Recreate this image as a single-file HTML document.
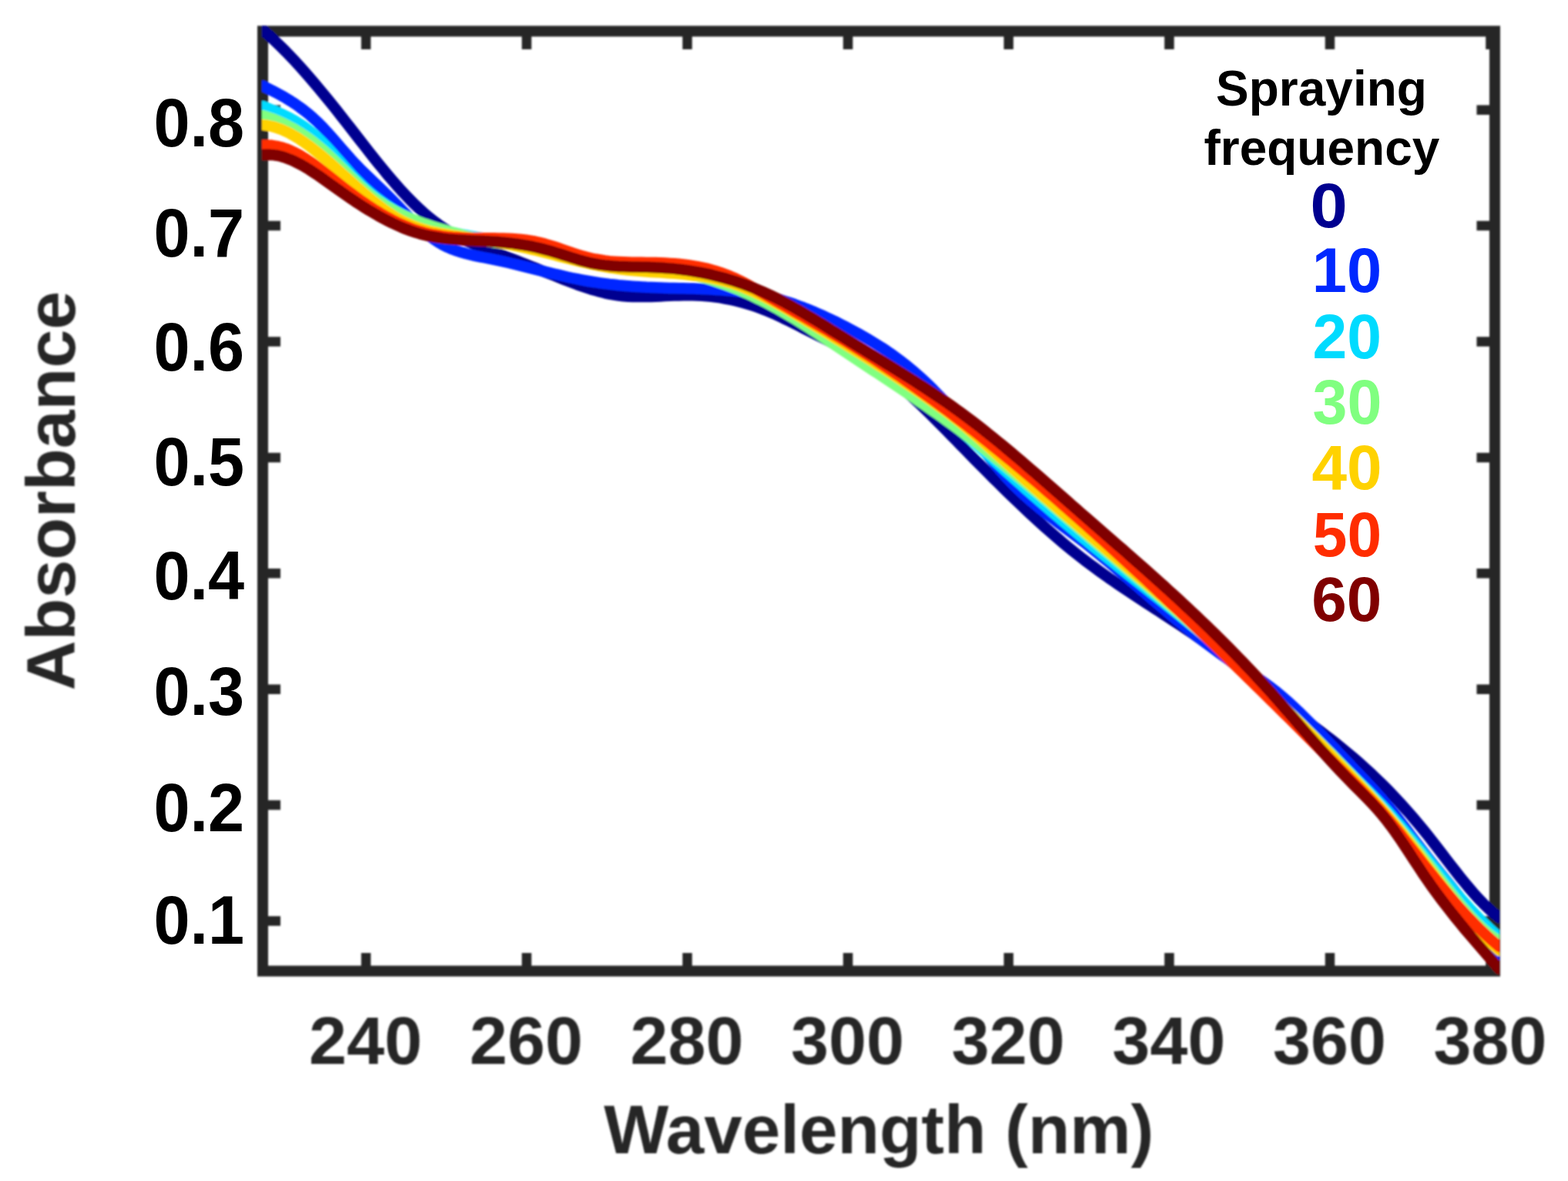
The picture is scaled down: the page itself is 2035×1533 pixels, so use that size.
<!DOCTYPE html>
<html><head><meta charset="utf-8"><title>Absorbance vs Wavelength</title>
<style>
html,body{margin:0;padding:0;background:#fff;}
body{width:2035px;height:1533px;overflow:hidden;position:relative;}
svg{position:absolute;left:0;top:0;}
.ax{font-family:"Liberation Sans",Arial,sans-serif;font-weight:bold;fill:#262626;}
.yl{font-family:"Liberation Sans",Arial,sans-serif;font-weight:bold;fill:#000;font-size:88.5px;}
.lg{font-family:"Liberation Sans",Arial,sans-serif;font-weight:bold;font-size:82.1px;}
.lt{font-family:"Liberation Sans",Arial,sans-serif;font-weight:bold;font-size:64px;fill:#000;}
</style></head><body>
<svg width="2035" height="1533" viewBox="0 0 2035 1533">
<defs><filter id="bl" x="-5%" y="-5%" width="110%" height="110%"><feGaussianBlur stdDeviation="0.9"/></filter>
<clipPath id="cp"><rect x="340" y="33.5" width="1606" height="1234.0"/></clipPath></defs>
<g filter="url(#bl)">
<g fill="none" stroke="#262626" stroke-width="14">
<rect x="341" y="40.5" width="1599" height="1220.0"/>
</g>
<g stroke="#262626" stroke-width="12.5" fill="none">
<path d="M475.0 1260.5V1237.0M475.0 40.5V64.0M683.5 1260.5V1237.0M683.5 40.5V64.0M892.0 1260.5V1237.0M892.0 40.5V64.0M1100.5 1260.5V1237.0M1100.5 40.5V64.0M1309.0 1260.5V1237.0M1309.0 40.5V64.0M1517.5 1260.5V1237.0M1517.5 40.5V64.0M1726.0 1260.5V1237.0M1726.0 40.5V64.0M1934.5 1260.5V1237.0M1934.5 40.5V64.0M341 142.7H364M1940 142.7H1916.5M341 293.1H364M1940 293.1H1916.5M341 443.5H364M1940 443.5H1916.5M341 593.9000000000001H364M1940 593.9000000000001H1916.5M341 744.3H364M1940 744.3H1916.5M341 894.7H364M1940 894.7H1916.5M341 1045.1000000000001H364M1940 1045.1000000000001H1916.5M341 1195.5H364M1940 1195.5H1916.5"/>
</g>
<g clip-path="url(#cp)" fill="none" stroke-width="14.5" stroke-linejoin="round" stroke-linecap="round">
<path stroke="#000090" d="M341 38.9 347 44.1 353 49.5 359 55.2 365 61.0 371 67.0 377 73.3 383 79.6 389 86.2 395 92.9 401 99.8 407 106.8 413 113.9 419 121.1 425 128.4 431 135.8 437 143.3 443 150.9 449 158.6 455 166.3 461 174.0 467 181.7 473 189.4 479 197.1 485 204.7 491 212.2 497 219.5 503 226.8 509 233.9 515 240.8 521 247.5 527 253.9 533 260.1 539 266.1 545 271.8 551 277.1 557 282.2 563 286.9 569 291.4 575 295.5 581 299.4 587 303.1 593 306.5 599 309.6 605 312.5 611 315.2 617 317.8 623 320.2 629 322.5 635 324.8 641 327.0 647 329.3 653 331.6 659 333.9 665 336.3 671 338.6 677 341.0 683 343.3 689 345.7 695 348.1 701 350.5 707 352.9 713 355.3 719 357.6 725 360.0 731 362.4 737 364.7 743 367.0 749 369.3 755 371.4 761 373.4 767 375.4 773 377.1 779 378.8 785 380.3 791 381.6 797 382.6 803 383.5 809 384.2 815 384.7 821 385.0 827 385.1 833 385.1 839 385.1 845 384.9 851 384.7 857 384.4 863 384.1 869 383.8 875 383.6 881 383.4 887 383.2 893 383.2 899 383.2 905 383.4 911 383.7 917 384.2 923 384.8 929 385.6 935 386.4 941 387.5 947 388.7 953 390.0 959 391.4 965 393.0 971 394.8 977 396.7 983 398.7 989 400.9 995 403.3 1001 405.8 1007 408.4 1013 411.2 1019 414.1 1025 417.0 1031 420.1 1037 423.1 1043 426.2 1049 429.2 1055 432.2 1061 435.2 1067 438.2 1073 441.2 1079 444.3 1085 447.3 1091 450.4 1097 453.6 1103 456.9 1109 460.2 1115 463.7 1121 467.3 1127 471.0 1133 474.9 1139 478.9 1145 483.2 1151 487.6 1157 492.3 1163 497.1 1169 502.1 1175 507.3 1181 512.7 1187 518.2 1193 523.8 1199 529.5 1205 535.4 1211 541.3 1217 547.3 1223 553.3 1229 559.4 1235 565.6 1241 571.7 1247 577.9 1253 584.0 1259 590.2 1265 596.3 1271 602.4 1277 608.4 1283 614.5 1289 620.5 1295 626.4 1301 632.4 1307 638.2 1313 644.1 1319 649.9 1325 655.6 1331 661.3 1337 666.9 1343 672.4 1349 677.9 1355 683.3 1361 688.6 1367 693.9 1373 699.1 1379 704.2 1385 709.2 1391 714.1 1397 718.9 1403 723.6 1409 728.3 1415 732.8 1421 737.2 1427 741.6 1433 745.9 1439 750.2 1445 754.3 1451 758.4 1457 762.5 1463 766.5 1469 770.5 1475 774.5 1481 778.4 1487 782.3 1493 786.3 1499 790.2 1505 794.0 1511 798.0 1517 801.9 1523 805.8 1529 809.8 1535 813.7 1541 817.8 1547 821.8 1553 825.9 1559 830.1 1565 834.3 1571 838.6 1577 842.9 1583 847.4 1589 851.9 1595 856.5 1601 861.2 1607 866.0 1613 870.9 1619 875.8 1625 880.7 1631 885.7 1637 890.6 1643 895.5 1649 900.3 1655 905.1 1661 909.8 1667 914.4 1673 919.0 1679 923.5 1685 928.0 1691 932.5 1697 936.9 1703 941.4 1709 945.9 1715 950.4 1721 955.0 1727 959.6 1733 964.3 1739 969.1 1745 974.0 1751 979.0 1757 984.1 1763 989.3 1769 994.6 1775 1000.1 1781 1005.6 1787 1011.4 1793 1017.2 1799 1023.2 1805 1029.4 1811 1035.7 1817 1042.1 1823 1048.8 1829 1055.5 1835 1062.5 1841 1069.6 1847 1076.9 1853 1084.3 1859 1092.0 1865 1099.7 1871 1107.5 1877 1115.3 1883 1123.1 1889 1130.8 1895 1138.4 1901 1145.8 1907 1153.0 1913 1159.9 1919 1166.6 1925 1172.8 1931 1178.7 1937 1184.1 1946 1191.3"/>
<path stroke="#0028ff" d="M341 111.6 347 114.6 353 117.5 359 120.7 365 123.9 371 127.3 377 131.0 383 134.9 389 139.1 395 143.6 401 148.4 407 153.7 413 159.3 419 165.4 425 171.9 431 178.6 437 185.5 443 192.4 449 199.3 455 206.1 461 212.6 467 218.8 473 224.7 479 230.5 485 236.2 491 241.9 497 247.7 503 253.6 509 259.6 515 265.8 521 272.0 527 278.1 533 284.1 539 290.0 545 295.6 551 300.9 557 305.9 563 310.4 569 314.4 575 317.9 581 320.9 587 323.5 593 325.7 599 327.6 605 329.3 611 330.7 617 332.1 623 333.3 629 334.5 635 335.7 641 336.9 647 338.1 653 339.4 659 340.8 665 342.2 671 343.6 677 345.1 683 346.6 689 348.1 695 349.6 701 351.1 707 352.6 713 354.1 719 355.5 725 356.9 731 358.3 737 359.7 743 361.0 749 362.2 755 363.4 761 364.5 767 365.5 773 366.4 779 367.3 785 368.1 791 368.9 797 369.5 803 370.2 809 370.7 815 371.2 821 371.7 827 372.1 833 372.4 839 372.8 845 373.0 851 373.3 857 373.5 863 373.7 869 373.9 875 374.0 881 374.2 887 374.3 893 374.5 899 374.6 905 374.8 911 375.0 917 375.3 923 375.6 929 375.9 935 376.3 941 376.8 947 377.3 953 377.9 959 378.6 965 379.3 971 380.2 977 381.1 983 382.2 989 383.3 995 384.6 1001 386.1 1007 387.6 1013 389.3 1019 391.1 1025 393.0 1031 395.0 1037 397.2 1043 399.4 1049 401.8 1055 404.2 1061 406.8 1067 409.4 1073 412.2 1079 415.0 1085 417.9 1091 420.9 1097 424.0 1103 427.1 1109 430.3 1115 433.6 1121 437.0 1127 440.5 1133 444.1 1139 447.8 1145 451.6 1151 455.6 1157 459.8 1163 464.1 1169 468.6 1175 473.2 1181 478.1 1187 483.1 1193 488.4 1199 493.9 1205 499.6 1211 505.5 1217 511.7 1223 518.0 1229 524.6 1235 531.5 1241 538.5 1247 545.8 1253 553.3 1259 560.9 1265 568.7 1271 576.5 1277 584.3 1283 592.0 1289 599.6 1295 606.9 1301 613.9 1307 620.6 1313 626.9 1319 633.0 1325 638.7 1331 644.2 1337 649.5 1343 654.6 1349 659.6 1355 664.4 1361 669.0 1367 673.6 1373 678.1 1379 682.6 1385 687.1 1391 691.6 1397 696.1 1403 700.7 1409 705.4 1415 710.2 1421 715.0 1427 719.9 1433 724.8 1439 729.8 1445 734.8 1451 739.9 1457 744.9 1463 750.1 1469 755.2 1475 760.3 1481 765.5 1487 770.6 1493 775.8 1499 780.9 1505 786.0 1511 791.1 1517 796.2 1523 801.2 1529 806.2 1535 811.1 1541 816.0 1547 820.8 1553 825.5 1559 830.2 1565 834.8 1571 839.3 1577 843.7 1583 848.0 1589 852.2 1595 856.3 1601 860.3 1607 864.2 1613 868.0 1619 871.8 1625 875.6 1631 879.5 1637 883.5 1643 887.7 1649 892.1 1655 896.7 1661 901.6 1667 906.7 1673 912.0 1679 917.6 1685 923.2 1691 929.1 1697 935.1 1703 941.2 1709 947.3 1715 953.6 1721 959.9 1727 966.3 1733 972.6 1739 979.0 1745 985.3 1751 991.6 1757 997.9 1763 1004.1 1769 1010.4 1775 1016.7 1781 1023.2 1787 1029.8 1793 1036.6 1799 1043.6 1805 1050.9 1811 1058.4 1817 1066.1 1823 1073.9 1829 1081.8 1835 1089.8 1841 1097.7 1847 1105.5 1853 1113.2 1859 1120.7 1865 1128.2 1871 1135.6 1877 1143.0 1883 1150.4 1889 1158.0 1895 1165.7 1901 1173.6 1907 1181.8 1913 1190.2 1919 1199.0 1925 1208.1 1931 1217.7 1937 1227.8 1946 1243.9"/>
<path stroke="#00dbff" d="M341 138.0 347 140.3 353 142.7 359 145.2 365 147.8 371 150.7 377 153.8 383 157.1 389 160.8 395 164.8 401 169.3 407 174.2 413 179.6 419 185.5 425 191.8 431 198.4 437 205.2 443 212.1 449 218.9 455 225.6 461 232.0 467 238.0 473 243.7 479 249.0 485 254.0 491 258.7 497 263.1 503 267.2 509 271.0 515 274.6 521 278.0 527 281.1 533 283.9 539 286.6 545 289.1 551 291.4 557 293.5 563 295.4 569 297.2 575 298.9 581 300.4 587 301.8 593 303.1 599 304.4 605 305.5 611 306.6 617 307.7 623 308.7 629 309.6 635 310.6 641 311.5 647 312.5 653 313.5 659 314.5 665 315.5 671 316.6 677 317.7 683 318.9 689 320.1 695 321.4 701 322.8 707 324.2 713 325.8 719 327.5 725 329.2 731 331.0 737 332.9 743 334.7 749 336.5 755 338.1 761 339.5 767 340.8 773 341.8 779 342.7 785 343.4 791 344.0 797 344.5 803 345.0 809 345.3 815 345.6 821 345.9 827 346.2 833 346.5 839 346.8 845 347.2 851 347.7 857 348.3 863 349.1 869 349.9 875 350.8 881 351.8 887 352.9 893 354.1 899 355.5 905 356.9 911 358.5 917 360.1 923 361.9 929 363.8 935 365.7 941 367.8 947 370.0 953 372.3 959 374.7 965 377.3 971 379.9 977 382.7 983 385.5 989 388.5 995 391.6 1001 394.8 1007 398.1 1013 401.5 1019 405.0 1025 408.6 1031 412.3 1037 416.0 1043 419.8 1049 423.6 1055 427.5 1061 431.5 1067 435.4 1073 439.4 1079 443.4 1085 447.3 1091 451.3 1097 455.3 1103 459.2 1109 463.1 1115 467.0 1121 470.8 1127 474.7 1133 478.5 1139 482.4 1145 486.3 1151 490.1 1157 494.0 1163 498.0 1169 501.9 1175 505.9 1181 510.0 1187 514.1 1193 518.2 1199 522.5 1205 526.8 1211 531.1 1217 535.6 1223 540.1 1229 544.7 1235 549.5 1241 554.3 1247 559.2 1253 564.3 1259 569.5 1265 574.7 1271 580.1 1277 585.5 1283 590.9 1289 596.4 1295 601.9 1301 607.3 1307 612.8 1313 618.2 1319 623.6 1325 628.9 1331 634.3 1337 639.6 1343 644.9 1349 650.1 1355 655.3 1361 660.5 1367 665.7 1373 670.8 1379 675.9 1385 681.0 1391 686.1 1397 691.1 1403 696.1 1409 701.0 1415 705.9 1421 710.8 1427 715.7 1433 720.5 1439 725.4 1445 730.2 1451 735.0 1457 739.8 1463 744.6 1469 749.3 1475 754.1 1481 758.9 1487 763.6 1493 768.4 1499 773.2 1505 777.9 1511 782.7 1517 787.5 1523 792.3 1529 797.2 1535 802.0 1541 806.9 1547 811.8 1553 816.7 1559 821.7 1565 826.7 1571 831.7 1577 836.7 1583 841.8 1589 846.9 1595 852.1 1601 857.3 1607 862.6 1613 867.9 1619 873.3 1625 878.7 1631 884.2 1637 889.7 1643 895.3 1649 901.0 1655 906.7 1661 912.5 1667 918.4 1673 924.3 1679 930.2 1685 936.2 1691 942.2 1697 948.2 1703 954.3 1709 960.3 1715 966.4 1721 972.5 1727 978.5 1733 984.5 1739 990.6 1745 996.5 1751 1002.5 1757 1008.4 1763 1014.3 1769 1020.3 1775 1026.2 1781 1032.3 1787 1038.5 1793 1044.8 1799 1051.2 1805 1057.9 1811 1064.7 1817 1071.6 1823 1078.7 1829 1085.9 1835 1093.2 1841 1100.5 1847 1107.9 1853 1115.3 1859 1122.6 1865 1129.9 1871 1137.2 1877 1144.4 1883 1151.5 1889 1158.6 1895 1165.5 1901 1172.2 1907 1178.9 1913 1185.3 1919 1191.6 1925 1197.6 1931 1203.5 1937 1209.1 1946 1217.0"/>
<path stroke="#80ff80" d="M341 150.1 347 152.0 353 154.1 359 156.5 365 159.1 371 162.0 377 165.1 383 168.4 389 172.1 395 176.0 401 180.2 407 184.8 413 189.6 419 194.7 425 200.1 431 205.8 437 211.6 443 217.6 449 223.6 455 229.6 461 235.5 467 241.2 473 246.7 479 251.8 485 256.6 491 261.0 497 265.1 503 268.8 509 272.3 515 275.5 521 278.5 527 281.2 533 283.8 539 286.3 545 288.5 551 290.7 557 292.7 563 294.6 569 296.4 575 298.2 581 299.9 587 301.5 593 303.1 599 304.8 605 306.4 611 308.0 617 309.6 623 311.0 629 312.4 635 313.6 641 314.6 647 315.4 653 316.0 659 316.6 665 317.2 671 317.9 677 318.6 683 319.6 689 320.8 695 322.2 701 323.7 707 325.4 713 327.1 719 328.9 725 330.7 731 332.5 737 334.3 743 336.0 749 337.6 755 339.1 761 340.5 767 341.6 773 342.6 779 343.4 785 344.1 791 344.7 797 345.2 803 345.6 809 346.0 815 346.3 821 346.6 827 347.0 833 347.3 839 347.7 845 348.2 851 348.8 857 349.4 863 350.2 869 351.0 875 352.0 881 353.1 887 354.2 893 355.5 899 356.9 905 358.3 911 359.9 917 361.6 923 363.4 929 365.3 935 367.3 941 369.4 947 371.6 953 373.9 959 376.3 965 378.8 971 381.5 977 384.2 983 387.1 989 390.0 995 393.1 1001 396.3 1007 399.5 1013 402.9 1019 406.4 1025 410.0 1031 413.6 1037 417.3 1043 421.1 1049 424.9 1055 428.8 1061 432.7 1067 436.7 1073 440.7 1079 444.7 1085 448.7 1091 452.7 1097 456.7 1103 460.7 1109 464.7 1115 468.7 1121 472.6 1127 476.6 1133 480.6 1139 484.5 1145 488.5 1151 492.5 1157 496.4 1163 500.4 1169 504.4 1175 508.5 1181 512.5 1187 516.6 1193 520.7 1199 524.8 1205 529.0 1211 533.2 1217 537.4 1223 541.7 1229 546.0 1235 550.3 1241 554.8 1247 559.2 1253 563.7 1259 568.3 1265 572.9 1271 577.6 1277 582.4 1283 587.1 1289 591.9 1295 596.8 1301 601.7 1307 606.6 1313 611.6 1319 616.6 1325 621.6 1331 626.6 1337 631.7 1343 636.8 1349 641.8 1355 647.0 1361 652.1 1367 657.2 1373 662.3 1379 667.5 1385 672.6 1391 677.7 1397 682.8 1403 688.0 1409 693.1 1415 698.2 1421 703.3 1427 708.4 1433 713.4 1439 718.5 1445 723.6 1451 728.7 1457 733.7 1463 738.8 1469 743.9 1475 749.0 1481 754.0 1487 759.1 1493 764.2 1499 769.3 1505 774.4 1511 779.5 1517 784.7 1523 789.8 1529 795.0 1535 800.1 1541 805.3 1547 810.5 1553 815.7 1559 820.9 1565 826.1 1571 831.4 1577 836.7 1583 842.0 1589 847.3 1595 852.7 1601 858.0 1607 863.4 1613 868.8 1619 874.3 1625 879.8 1631 885.3 1637 890.8 1643 896.4 1649 902.0 1655 907.6 1661 913.3 1667 919.0 1673 924.7 1679 930.5 1685 936.3 1691 942.2 1697 948.1 1703 954.0 1709 960.0 1715 966.1 1721 972.1 1727 978.2 1733 984.4 1739 990.6 1745 996.9 1751 1003.2 1757 1009.6 1763 1016.0 1769 1022.5 1775 1029.0 1781 1035.6 1787 1042.3 1793 1049.0 1799 1055.8 1805 1062.7 1811 1069.7 1817 1076.8 1823 1083.9 1829 1091.2 1835 1098.5 1841 1105.9 1847 1113.5 1853 1121.1 1859 1128.8 1865 1136.6 1871 1144.3 1877 1152.0 1883 1159.6 1889 1167.1 1895 1174.3 1901 1181.3 1907 1188.1 1913 1194.5 1919 1200.6 1925 1206.2 1931 1211.4 1937 1216.0 1946 1222.0"/>
<path stroke="#ffd200" d="M341 162.1 347 162.8 353 164.0 359 165.8 365 167.9 371 170.6 377 173.6 383 177.0 389 180.7 395 184.8 401 189.1 407 193.7 413 198.5 419 203.4 425 208.6 431 213.8 437 219.2 443 224.6 449 230.0 455 235.4 461 240.8 467 246.2 473 251.4 479 256.5 485 261.5 491 266.2 497 270.8 503 275.1 509 279.1 515 282.8 521 286.2 527 289.2 533 291.8 539 294.2 545 296.3 551 298.1 557 299.7 563 301.1 569 302.4 575 303.5 581 304.5 587 305.5 593 306.3 599 307.2 605 308.1 611 309.0 617 309.9 623 310.8 629 311.7 635 312.7 641 313.7 647 314.8 653 315.8 659 317.0 665 318.1 671 319.4 677 320.7 683 322.0 689 323.4 695 324.8 701 326.3 707 327.8 713 329.3 719 330.8 725 332.4 731 333.9 737 335.4 743 336.9 749 338.4 755 339.9 761 341.2 767 342.6 773 343.9 779 345.1 785 346.2 791 347.3 797 348.2 803 349.1 809 349.8 815 350.5 821 351.1 827 351.6 833 352.1 839 352.5 845 352.9 851 353.3 857 353.6 863 354.0 869 354.4 875 354.9 881 355.3 887 355.9 893 356.5 899 357.2 905 357.9 911 358.8 917 359.8 923 360.9 929 362.2 935 363.6 941 365.2 947 366.9 953 368.8 959 370.9 965 373.2 971 375.7 977 378.3 983 381.1 989 384.0 995 387.0 1001 390.1 1007 393.3 1013 396.6 1019 400.0 1025 403.4 1031 406.9 1037 410.5 1043 414.1 1049 417.7 1055 421.3 1061 424.9 1067 428.5 1073 432.2 1079 435.8 1085 439.5 1091 443.1 1097 446.8 1103 450.6 1109 454.3 1115 458.0 1121 461.8 1127 465.6 1133 469.4 1139 473.3 1145 477.1 1151 481.0 1157 484.9 1163 488.9 1169 492.9 1175 496.9 1181 500.9 1187 505.0 1193 509.1 1199 513.3 1205 517.5 1211 521.7 1217 526.0 1223 530.4 1229 534.8 1235 539.4 1241 544.1 1247 548.9 1253 553.8 1259 558.9 1265 564.1 1271 569.3 1277 574.7 1283 580.1 1289 585.5 1295 591.0 1301 596.4 1307 601.8 1313 607.2 1319 612.5 1325 617.9 1331 623.2 1337 628.4 1343 633.7 1349 638.9 1355 644.2 1361 649.3 1367 654.5 1373 659.7 1379 664.9 1385 670.0 1391 675.1 1397 680.2 1403 685.3 1409 690.4 1415 695.5 1421 700.6 1427 705.7 1433 710.8 1439 715.9 1445 720.9 1451 726.0 1457 731.1 1463 736.2 1469 741.2 1475 746.3 1481 751.4 1487 756.5 1493 761.6 1499 766.7 1505 771.9 1511 777.0 1517 782.2 1523 787.3 1529 792.5 1535 797.7 1541 802.9 1547 808.2 1553 813.4 1559 818.7 1565 824.0 1571 829.4 1577 834.7 1583 840.1 1589 845.5 1595 850.9 1601 856.4 1607 861.9 1613 867.4 1619 873.0 1625 878.6 1631 884.2 1637 889.9 1643 895.6 1649 901.4 1655 907.2 1661 913.0 1667 918.9 1673 924.8 1679 930.8 1685 936.8 1691 942.8 1697 948.9 1703 955.1 1709 961.3 1715 967.6 1721 973.8 1727 980.1 1733 986.4 1739 992.7 1745 998.9 1751 1005.1 1757 1011.3 1763 1017.5 1769 1023.8 1775 1030.0 1781 1036.4 1787 1043.0 1793 1049.6 1799 1056.5 1805 1063.6 1811 1070.9 1817 1078.4 1823 1086.1 1829 1093.9 1835 1101.7 1841 1109.6 1847 1117.6 1853 1125.6 1859 1133.5 1865 1141.4 1871 1149.2 1877 1156.9 1883 1164.6 1889 1172.1 1895 1179.5 1901 1186.7 1907 1193.8 1913 1200.6 1919 1207.2 1925 1213.6 1931 1219.8 1937 1225.7 1946 1233.9"/>
<path stroke="#ff2d00" d="M341 188.5 347 188.4 353 188.8 359 189.8 365 191.2 371 193.1 377 195.5 383 198.3 389 201.5 395 205.1 401 209.0 407 213.1 413 217.6 419 222.2 425 226.9 431 231.7 437 236.5 443 241.2 449 245.9 455 250.4 461 254.9 467 259.2 473 263.3 479 267.4 485 271.3 491 275.0 497 278.6 503 282.0 509 285.2 515 288.2 521 291.0 527 293.6 533 296.0 539 298.2 545 300.1 551 301.8 557 303.2 563 304.5 569 305.5 575 306.4 581 307.1 587 307.7 593 308.1 599 308.5 605 308.7 611 308.9 617 309.0 623 309.1 629 309.2 635 309.2 641 309.3 647 309.4 653 309.5 659 309.7 665 310.0 671 310.5 677 311.0 683 311.7 689 312.6 695 313.7 701 315.1 707 316.6 713 318.4 719 320.2 725 322.2 731 324.3 737 326.3 743 328.4 749 330.3 755 332.1 761 333.8 767 335.3 773 336.5 779 337.5 785 338.4 791 339.1 797 339.6 803 340.0 809 340.3 815 340.5 821 340.7 827 340.8 833 340.8 839 340.9 845 341.0 851 341.1 857 341.3 863 341.6 869 341.9 875 342.3 881 342.8 887 343.4 893 344.2 899 345.1 905 346.1 911 347.3 917 348.6 923 350.2 929 351.9 935 353.8 941 356.0 947 358.3 953 360.9 959 363.7 965 366.8 971 370.0 977 373.3 983 376.7 989 380.2 995 383.7 1001 387.2 1007 390.7 1013 394.1 1019 397.6 1025 401.0 1031 404.5 1037 407.9 1043 411.3 1049 414.8 1055 418.2 1061 421.7 1067 425.1 1073 428.6 1079 432.2 1085 435.7 1091 439.3 1097 442.9 1103 446.6 1109 450.3 1115 454.0 1121 457.8 1127 461.6 1133 465.5 1139 469.4 1145 473.4 1151 477.4 1157 481.4 1163 485.5 1169 489.6 1175 493.8 1181 498.0 1187 502.2 1193 506.5 1199 510.8 1205 515.1 1211 519.5 1217 523.9 1223 528.3 1229 532.8 1235 537.3 1241 541.9 1247 546.5 1253 551.1 1259 555.7 1265 560.4 1271 565.1 1277 569.9 1283 574.7 1289 579.5 1295 584.3 1301 589.2 1307 594.1 1313 599.0 1319 604.0 1325 608.9 1331 613.9 1337 619.0 1343 624.0 1349 629.1 1355 634.3 1361 639.4 1367 644.6 1373 649.7 1379 655.0 1385 660.2 1391 665.5 1397 670.7 1403 676.1 1409 681.4 1415 686.7 1421 692.1 1427 697.5 1433 702.9 1439 708.4 1445 713.8 1451 719.3 1457 724.8 1463 730.3 1469 735.8 1475 741.4 1481 746.9 1487 752.5 1493 758.1 1499 763.7 1505 769.4 1511 775.0 1517 780.7 1523 786.4 1529 792.1 1535 797.8 1541 803.5 1547 809.2 1553 815.0 1559 820.7 1565 826.5 1571 832.3 1577 838.1 1583 843.9 1589 849.7 1595 855.6 1601 861.4 1607 867.3 1613 873.1 1619 879.0 1625 884.9 1631 890.8 1637 896.7 1643 902.6 1649 908.5 1655 914.4 1661 920.4 1667 926.3 1673 932.2 1679 938.2 1685 944.1 1691 950.1 1697 956.1 1703 962.0 1709 968.0 1715 974.0 1721 980.0 1727 986.0 1733 991.9 1739 997.9 1745 1003.9 1751 1009.9 1757 1015.9 1763 1021.9 1769 1028.0 1775 1034.2 1781 1040.5 1787 1047.0 1793 1053.7 1799 1060.5 1805 1067.6 1811 1074.9 1817 1082.4 1823 1090.0 1829 1097.7 1835 1105.4 1841 1113.2 1847 1120.9 1853 1128.5 1859 1136.1 1865 1143.6 1871 1150.9 1877 1158.2 1883 1165.3 1889 1172.2 1895 1179.0 1901 1185.6 1907 1192.1 1913 1198.3 1919 1204.4 1925 1210.2 1931 1215.9 1937 1221.3 1946 1228.9"/>
<path stroke="#800000" d="M341 201.1 347 200.7 353 200.9 359 201.7 365 203.0 371 204.9 377 207.2 383 209.9 389 212.9 395 216.3 401 219.9 407 223.8 413 227.8 419 232.0 425 236.3 431 240.6 437 244.9 443 249.2 449 253.4 455 257.5 461 261.6 467 265.5 473 269.3 479 273.1 485 276.6 491 280.1 497 283.4 503 286.5 509 289.5 515 292.3 521 295.0 527 297.4 533 299.6 539 301.6 545 303.4 551 305.0 557 306.4 563 307.5 569 308.5 575 309.4 581 310.1 587 310.6 593 311.1 599 311.5 605 311.9 611 312.2 617 312.4 623 312.7 629 313.0 635 313.3 641 313.7 647 314.1 653 314.6 659 315.2 665 315.9 671 316.7 677 317.6 683 318.6 689 319.7 695 321.0 701 322.4 707 323.9 713 325.6 719 327.3 725 329.2 731 331.0 737 332.9 743 334.8 749 336.7 755 338.4 761 340.0 767 341.5 773 342.6 779 343.6 785 344.4 791 345.0 797 345.5 803 345.9 809 346.1 815 346.3 821 346.5 827 346.6 833 346.7 839 346.8 845 347.0 851 347.2 857 347.5 863 347.9 869 348.4 875 348.9 881 349.6 887 350.3 893 351.2 899 352.1 905 353.1 911 354.2 917 355.4 923 356.7 929 358.2 935 359.7 941 361.3 947 363.1 953 364.9 959 366.9 965 368.9 971 371.1 977 373.4 983 375.9 989 378.4 995 381.1 1001 383.9 1007 386.8 1013 389.8 1019 392.9 1025 396.2 1031 399.5 1037 402.9 1043 406.4 1049 409.9 1055 413.5 1061 417.2 1067 420.8 1073 424.5 1079 428.3 1085 432.0 1091 435.7 1097 439.4 1103 443.2 1109 446.9 1115 450.5 1121 454.2 1127 457.9 1133 461.5 1139 465.2 1145 468.8 1151 472.5 1157 476.2 1163 479.9 1169 483.6 1175 487.4 1181 491.1 1187 494.9 1193 498.8 1199 502.7 1205 506.6 1211 510.6 1217 514.6 1223 518.7 1229 522.8 1235 527.0 1241 531.3 1247 535.7 1253 540.1 1259 544.6 1265 549.1 1271 553.8 1277 558.5 1283 563.3 1289 568.1 1295 573.0 1301 577.9 1307 582.9 1313 587.9 1319 593.0 1325 598.1 1331 603.2 1337 608.4 1343 613.5 1349 618.8 1355 624.0 1361 629.2 1367 634.5 1373 639.7 1379 645.0 1385 650.3 1391 655.6 1397 660.8 1403 666.1 1409 671.3 1415 676.5 1421 681.8 1427 687.0 1433 692.2 1439 697.4 1445 702.7 1451 707.9 1457 713.1 1463 718.4 1469 723.7 1475 728.9 1481 734.2 1487 739.5 1493 744.9 1499 750.2 1505 755.6 1511 761.0 1517 766.5 1523 771.9 1529 777.4 1535 783.0 1541 788.6 1547 794.2 1553 799.8 1559 805.6 1565 811.3 1571 817.1 1577 823.0 1583 828.9 1589 834.9 1595 840.9 1601 847.0 1607 853.2 1613 859.4 1619 865.7 1625 872.0 1631 878.5 1637 885.0 1643 891.6 1649 898.2 1655 905.0 1661 911.8 1667 918.7 1673 925.6 1679 932.5 1685 939.5 1691 946.4 1697 953.4 1703 960.3 1709 967.1 1715 973.9 1721 980.7 1727 987.3 1733 993.9 1739 1000.3 1745 1006.6 1751 1012.8 1757 1018.9 1763 1024.8 1769 1030.8 1775 1037.0 1781 1043.3 1787 1049.8 1793 1056.8 1799 1064.1 1805 1072.0 1811 1080.3 1817 1089.0 1823 1097.9 1829 1107.0 1835 1116.2 1841 1125.3 1847 1134.4 1853 1143.2 1859 1151.7 1865 1160.0 1871 1168.1 1877 1175.9 1883 1183.6 1889 1191.1 1895 1198.5 1901 1205.8 1907 1212.9 1913 1219.9 1919 1226.9 1925 1233.8 1931 1240.7 1937 1247.6 1946 1257.9"/>
</g>
<g class="ax" font-size="88px" text-anchor="middle">
<text x="474.5" y="1381">240</text>
<text x="683.0" y="1381">260</text>
<text x="891.5" y="1381">280</text>
<text x="1100.0" y="1381">300</text>
<text x="1308.5" y="1381">320</text>
<text x="1517.0" y="1381">340</text>
<text x="1725.5" y="1381">360</text>
<text x="1934.0" y="1381">380</text>
</g>
<text class="ax" font-size="89px" text-anchor="middle" x="1140.5" y="1497">Wavelength (nm)</text>
<text class="ax" font-size="89.7px" text-anchor="middle" transform="translate(97 637) rotate(-90)">Absorbance</text>
</g>
<text class="yl" transform="translate(199.5 190.1) scale(0.956 1)">0.8</text>
<text class="yl" transform="translate(199.5 333.0) scale(0.956 1)">0.7</text>
<text class="yl" transform="translate(199.5 481.0) scale(0.956 1)">0.6</text>
<text class="yl" transform="translate(199.5 630.1) scale(0.956 1)">0.5</text>
<text class="yl" transform="translate(199.5 778.0) scale(0.956 1)">0.4</text>
<text class="yl" transform="translate(199.5 927.6) scale(0.956 1)">0.3</text>
<text class="yl" transform="translate(199.5 1079.1) scale(0.956 1)">0.2</text>
<text class="yl" transform="translate(199.5 1225.2) scale(0.956 1)">0.1</text>
<text class="lt" text-anchor="middle" x="1715" y="136.8">Spraying</text>
<text class="lt" text-anchor="middle" x="1715.4" y="214">frequency</text>
<text class="lg" fill="#00008f" transform="translate(1700.6 295.3) scale(1.057 1)">0</text>
<text class="lg" fill="#0028ff" transform="translate(1702.8 379.2) scale(0.99 1)">10</text>
<text class="lg" fill="#00dbff" transform="translate(1703.6 465.0) scale(0.98 1)">20</text>
<text class="lg" fill="#80ff80" transform="translate(1703.5 550.2) scale(0.985 1)">30</text>
<text class="lg" fill="#ffd200" transform="translate(1702.4 635.4) scale(0.998 1)">40</text>
<text class="lg" fill="#ff2d00" transform="translate(1703.8 721.5) scale(0.978 1)">50</text>
<text class="lg" fill="#800000" transform="translate(1702.3 806.0) scale(0.998 1)">60</text>
</svg>
</body></html>
